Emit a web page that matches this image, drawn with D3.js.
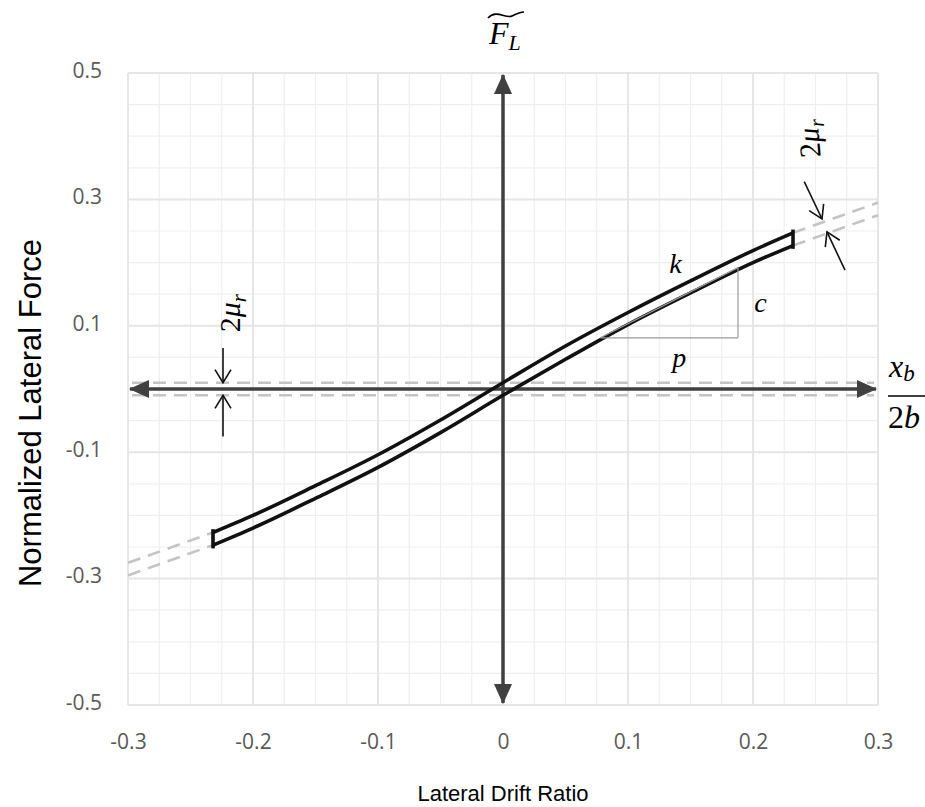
<!DOCTYPE html>
<html>
<head>
<meta charset="utf-8">
<script src="https://cdn.jsdelivr.net/npm/d3@7"></script>
<style>
  body { margin: 0; background: #fff; }
  .title { font-family: "Liberation Sans", Arial, sans-serif; fill: #000; }
  .math { font-family: "Liberation Serif", "DejaVu Serif", serif; font-style: italic; fill: #000; }
</style>
</head>
<body>
<svg id="chart"></svg>
<script>
const driftX = [-0.232, -0.2, -0.15, -0.1, -0.05, 0, 0.05, 0.1, 0.15, 0.2, 0.232];
const upperForce = [-0.227, -0.2, -0.153, -0.104, -0.049, 0.01, 0.068, 0.121, 0.171, 0.219, 0.247];
const lowerForce = [-0.247, -0.22, -0.173, -0.124, -0.069, -0.01, 0.047, 0.102, 0.152, 0.2, 0.227];

// dashed extensions of the loop out to the plot edge
const extUpperLeft = [[-0.3, -0.275], [-0.232, -0.227]];
const extLowerLeft = [[-0.3, -0.295], [-0.232, -0.247]];
const extUpperRight = [[0.232, 0.247], [0.3, 0.295]];
const extLowerRight = [[0.232, 0.227], [0.3, 0.275]];
const frictionBand = [0.01, -0.01];

// slope triangle (p along, c up)
const triX = [0.078, 0.188];
const triY = [0.081, 0.192];

// 2*mu_r arrows: [tail, tip]
const muArrows = [
  [[-0.224, 0.065], [-0.224, 0.01]],
  [[-0.224, -0.075], [-0.224, -0.01]],
  [[0.241, 0.328], [0.2552, 0.269]],
  [[0.2736, 0.188], [0.2592, 0.2486]]
];

const xTicks = [-0.3, -0.2, -0.1, 0, 0.1, 0.2, 0.3];
const xTickLabels = ['-0.3', '-0.2', '-0.1', '0', '0.1', '0.2', '0.3'];
const yTicks = [0.5, 0.3, 0.1, -0.1, -0.3, -0.5];
const yTickLabels = ['0.5', '0.3', '0.1', '-0.1', '-0.3', '-0.5'];

let width = 925, height = 807;
let margin = { top: 73, bottom: 102, left: 128, right: 47 };

let svg = d3.select('#chart')
  .attr('width', width)
  .attr('height', height);

svg.append('rect').attr('width', width).attr('height', height).attr('fill', '#fff');

let x = d3.scaleLinear().domain([-0.3, 0.3]).range([margin.left, width - margin.right]);
let y = d3.scaleLinear().domain([-0.5, 0.5]).range([height - margin.bottom, margin.top]);

// grid
let minorX = d3.range(-0.3, 0.3001, 0.025);
let minorY = d3.range(-0.5, 0.5001, 0.05);
let grid = svg.append('g');
grid.selectAll('.vminor').data(minorX).enter().append('line')
  .attr('x1', d => x(d)).attr('x2', d => x(d))
  .attr('y1', y(0.5)).attr('y2', y(-0.5))
  .attr('stroke', '#efefef').attr('stroke-width', 1.2);
grid.selectAll('.hminor').data(minorY).enter().append('line')
  .attr('y1', d => y(d)).attr('y2', d => y(d))
  .attr('x1', x(-0.3)).attr('x2', x(0.3))
  .attr('stroke', '#efefef').attr('stroke-width', 1.2);
grid.selectAll('.vmajor').data(xTicks).enter().append('line')
  .attr('x1', d => x(d)).attr('x2', d => x(d))
  .attr('y1', y(0.5)).attr('y2', y(-0.5))
  .attr('stroke', '#e6e6e6').attr('stroke-width', 2);
grid.selectAll('.hmajor').data(yTicks).enter().append('line')
  .attr('y1', d => y(d)).attr('y2', d => y(d))
  .attr('x1', x(-0.3)).attr('x2', x(0.3))
  .attr('stroke', '#e6e6e6').attr('stroke-width', 2);

// axes labels
let xAxis = svg.append('g')
  .attr('transform', `translate(0,${y(-0.5) + 26})`)
  .call(d3.axisBottom(x).tickValues(xTicks).tickFormat((d, i) => xTickLabels[i]).tickSize(0));
xAxis.select('.domain').remove();

let yAxis = svg.append('g')
  .attr('transform', `translate(${x(-0.3) - 23},0)`)
  .call(d3.axisLeft(y).tickValues(yTicks).tickFormat((d, i) => yTickLabels[i]).tickSize(0));
yAxis.select('.domain').remove();
yAxis.selectAll('text').attr('dy', '0.2em');

svg.selectAll('.tick text')
  .attr('font-family', '"Open Sans", sans-serif')
  .attr('font-size', 21)
  .attr('fill', '#595959');

// dashed lines
let dashed = svg.append('g')
  .attr('fill', 'none')
  .attr('stroke', '#c4c4c4')
  .attr('stroke-width', 2.6)
  .attr('stroke-dasharray', '13,8');
dashed.selectAll('.band').data(frictionBand).enter().append('line')
  .attr('x1', x(-0.3) + 4).attr('x2', x(0.3) - 4)
  .attr('y1', d => y(d)).attr('y2', d => y(d));
let segLine = d3.line().x(d => x(d[0])).y(d => y(d[1]));
[extUpperLeft, extLowerLeft, extUpperRight, extLowerRight].forEach(seg => {
  dashed.append('path').attr('d', segLine(seg));
});

// main axes with arrowheads
let axisCol = '#404040';
let defs = svg.append('defs');
defs.append('marker')
  .attr('id', 'head')
  .attr('markerUnits', 'userSpaceOnUse')
  .attr('viewBox', '0 0 20 18')
  .attr('refX', 19).attr('refY', 9)
  .attr('markerWidth', 20).attr('markerHeight', 18)
  .attr('orient', 'auto-start-reverse')
  .append('path').attr('d', 'M0,0 L20,9 L0,18 Z').attr('fill', axisCol);

svg.append('line')
  .attr('x1', x(0)).attr('x2', x(0))
  .attr('y1', y(0.5) + 2).attr('y2', y(-0.5) - 2)
  .attr('stroke', axisCol).attr('stroke-width', 3.5)
  .attr('marker-start', 'url(#head)').attr('marker-end', 'url(#head)');
svg.append('line')
  .attr('x1', x(-0.3) + 2).attr('x2', x(0.3) - 2)
  .attr('y1', y(0)).attr('y2', y(0))
  .attr('stroke', axisCol).attr('stroke-width', 3.5)
  .attr('marker-start', 'url(#head)').attr('marker-end', 'url(#head)');

// hysteresis loop
let loopLine = d3.line()
  .x(d => x(d[0]))
  .y(d => y(d[1]))
  .curve(d3.curveMonotoneX);
let upperPts = driftX.map((d, i) => [d, upperForce[i]]);
let lowerPts = driftX.map((d, i) => [d, lowerForce[i]]);
let loop = svg.append('g').attr('fill', 'none').attr('stroke', '#111').attr('stroke-width', 3.6);
loop.append('path').attr('d', loopLine(upperPts));
loop.append('path').attr('d', loopLine(lowerPts));
[0, driftX.length - 1].forEach(i => {
  loop.append('line')
    .attr('x1', x(driftX[i])).attr('x2', x(driftX[i]))
    .attr('y1', y(upperForce[i]) - 1.5).attr('y2', y(lowerForce[i]) + 1.5)
    .attr('stroke-linecap', 'square');
});

// slope triangle
let tri = svg.append('g').attr('fill', 'none').attr('stroke', '#9a9a9a').attr('stroke-width', 1.2);
tri.append('line').attr('x1', x(triX[0])).attr('y1', y(triY[0])).attr('x2', x(triX[1])).attr('y2', y(triY[1]));
tri.append('line').attr('x1', x(triX[0])).attr('y1', y(triY[0])).attr('x2', x(triX[1])).attr('y2', y(triY[0]));
tri.append('line').attr('x1', x(triX[1])).attr('y1', y(triY[0])).attr('x2', x(triX[1])).attr('y2', y(triY[1]));

// 2 mu_r arrows with open heads
let arr = svg.append('g').attr('stroke', '#111').attr('stroke-width', 1.6).attr('fill', 'none');
muArrows.forEach(a => {
  let t = [x(a[0][0]), y(a[0][1])];
  let h = [x(a[1][0]), y(a[1][1])];
  let dx = h[0] - t[0], dy = h[1] - t[1];
  let len = Math.hypot(dx, dy);
  let ux = dx / len, uy = dy / len;
  arr.append('line').attr('x1', t[0]).attr('y1', t[1]).attr('x2', h[0]).attr('y2', h[1]);
  let back = 13, side = 8;
  arr.append('path').attr('d',
    `M${h[0] - ux * back - uy * side},${h[1] - uy * back + ux * side} L${h[0]},${h[1]} L${h[0] - ux * back + uy * side},${h[1] - uy * back - ux * side}`);
});

// math labels
function muLabel(cx, cy, rot) {
  let g = svg.append('g').attr('transform', `translate(${cx},${cy}) rotate(${rot})`);
  let t = g.append('text').attr('class', 'math').attr('font-size', 30).attr('text-anchor', 'middle').attr('dy', '0.35em');
  t.append('tspan').attr('font-style', 'normal').text('2');
  t.append('tspan').text('μ');
  t.append('tspan').attr('font-size', 21).attr('dy', 6).text('r');
}
muLabel(x(-0.224) + 6, y(0.12), -90);
muLabel(x(0.2445), y(0.396), -95);

svg.append('text').attr('class', 'math').attr('font-size', 28)
  .attr('x', x(0.138)).attr('y', y(0.199)).attr('text-anchor', 'middle').attr('dy', '0.35em').text('k');
svg.append('text').attr('class', 'math').attr('font-size', 28)
  .attr('x', x(0.206)).attr('y', y(0.138)).attr('text-anchor', 'middle').attr('dy', '0.35em').text('c');
svg.append('text').attr('class', 'math').attr('font-size', 28)
  .attr('x', x(0.141)).attr('y', y(0.051)).attr('text-anchor', 'middle').attr('dy', '0.35em').text('p');

// F tilde L at top
let fx = x(0);
let fl = svg.append('text').attr('class', 'math').attr('font-size', 32).attr('x', fx - 14).attr('y', 44);
fl.append('tspan').text('F');
fl.append('tspan').attr('font-size', 22).attr('dy', 6).text('L');
svg.append('path')
  .attr('d', `M${fx - 15},${18} C${fx - 7},${9} ${fx + 3},${19} ${fx + 9},${16} S${fx + 17},${12} ${fx + 21},${12}`)
  .attr('fill', 'none').attr('stroke', '#000').attr('stroke-width', 1.7);

// x_b / 2b at right
let rx = x(0.3) + 10;
let num = svg.append('text').attr('class', 'math').attr('font-size', 32).attr('x', rx + 1).attr('y', y(0) - 12);
num.append('tspan').text('x');
num.append('tspan').attr('font-size', 23).attr('dy', 4).text('b');
svg.append('line').attr('x1', rx).attr('x2', rx + 40).attr('y1', y(0) + 7).attr('y2', y(0) + 7)
  .attr('stroke', '#000').attr('stroke-width', 1.5);
let den = svg.append('text').attr('class', 'math').attr('font-size', 32).attr('x', rx).attr('y', y(0) + 39);
den.append('tspan').attr('font-style', 'normal').text('2');
den.append('tspan').text('b');

// axis titles
svg.append('text').attr('class', 'title').attr('font-size', 22)
  .attr('x', x(0)).attr('y', 801)
  .attr('text-anchor', 'middle').text('Lateral Drift Ratio');
svg.append('text').attr('class', 'title').attr('font-size', 31)
  .attr('transform', `translate(41,413) rotate(-90)`)
  .attr('text-anchor', 'middle').text('Normalized Lateral Force');
</script>
</body>
</html>
